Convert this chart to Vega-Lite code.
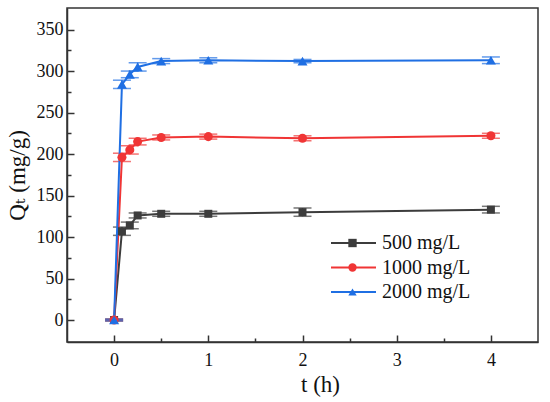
{
  "$schema": "https://vega.github.io/schema/vega-lite/v6.json",
  "width": 471,
  "height": 334,
  "autosize": {"type": "none"},
  "padding": {"left": 67, "top": 8, "right": 12, "bottom": 60},
  "background": "white",
  "data": {
    "values": [
      {"t": 0, "Q": 0, "err": 1, "series": "500 mg/L"},
      {"t": 0.0833, "Q": 107, "err": 5, "series": "500 mg/L"},
      {"t": 0.1667, "Q": 114, "err": 4, "series": "500 mg/L"},
      {"t": 0.25, "Q": 126, "err": 3, "series": "500 mg/L"},
      {"t": 0.5, "Q": 128, "err": 3, "series": "500 mg/L"},
      {"t": 1, "Q": 128, "err": 3, "series": "500 mg/L"},
      {"t": 2, "Q": 130, "err": 5, "series": "500 mg/L"},
      {"t": 4, "Q": 133, "err": 4, "series": "500 mg/L"},
      {"t": 0, "Q": 0, "err": 1, "series": "1000 mg/L"},
      {"t": 0.0833, "Q": 196, "err": 5, "series": "1000 mg/L"},
      {"t": 0.1667, "Q": 205, "err": 5, "series": "1000 mg/L"},
      {"t": 0.25, "Q": 215, "err": 4, "series": "1000 mg/L"},
      {"t": 0.5, "Q": 220, "err": 3, "series": "1000 mg/L"},
      {"t": 1, "Q": 221, "err": 3, "series": "1000 mg/L"},
      {"t": 2, "Q": 219, "err": 3, "series": "1000 mg/L"},
      {"t": 4, "Q": 222, "err": 3, "series": "1000 mg/L"},
      {"t": 0, "Q": 0, "err": 1, "series": "2000 mg/L"},
      {"t": 0.0833, "Q": 284, "err": 5, "series": "2000 mg/L"},
      {"t": 0.1667, "Q": 296, "err": 4, "series": "2000 mg/L"},
      {"t": 0.25, "Q": 305, "err": 5, "series": "2000 mg/L"},
      {"t": 0.5, "Q": 312, "err": 3, "series": "2000 mg/L"},
      {"t": 1, "Q": 313, "err": 3, "series": "2000 mg/L"},
      {"t": 2, "Q": 312, "err": 2, "series": "2000 mg/L"},
      {"t": 4, "Q": 313, "err": 4, "series": "2000 mg/L"}
    ]
  },
  "encoding": {
    "x": {
      "field": "t",
      "type": "quantitative",
      "scale": {"domain": [-0.5, 4.5], "nice": false, "zero": false},
      "axis": {
        "title": "t (h)",
        "values": [0, 0.5, 1, 1.5, 2, 2.5, 3, 3.5, 4],
        "format": "~g",
        "labelExpr": "datum.value % 1 === 0 ? datum.label : ''",
        "tickSize": {"condition": {"test": "datum.value % 1 !== 0", "value": -4}, "value": -7},
        "labelPadding": 16,
        "titleX": 253,
        "titleY": 42,
        "titleAlign": "center",
        "titleBaseline": "middle",
        "grid": false
      }
    },
    "y": {
      "field": "Q",
      "type": "quantitative",
      "scale": {"domain": [-26.5, 376], "nice": false, "zero": false},
      "axis": {
        "title": "Qₜ (mg/g)",
        "values": [0, 25, 50, 75, 100, 125, 150, 175, 200, 225, 250, 275, 300, 325, 350],
        "labelExpr": "datum.value % 50 === 0 ? datum.label : ''",
        "tickSize": {"condition": {"test": "datum.value % 50 !== 0", "value": -4}, "value": -7},
        "labelPadding": 11,
        "titleX": -50,
        "titleY": 167,
        "titleAlign": "center",
        "titleBaseline": "middle",
        "grid": false
      }
    }
  },
  "layer": [
    {
      "mark": {"type": "errorbar", "ticks": {"size": 18}, "thickness": 1.5},
      "encoding": {
        "y": {"field": "Q", "type": "quantitative"},
        "yError": {"field": "err"},
        "color": {"field": "series", "type": "nominal", "legend": null,
          "scale": {"domain": ["500 mg/L", "1000 mg/L", "2000 mg/L"], "range": ["#3c3c3c", "#f03535", "#1f6fe3"]}}
      }
    },
    {
      "mark": {"type": "line", "strokeWidth": 2},
      "encoding": {
        "color": {"field": "series", "type": "nominal",
          "scale": {"domain": ["500 mg/L", "1000 mg/L", "2000 mg/L"], "range": ["#3c3c3c", "#f03535", "#1f6fe3"]},
          "legend": {
            "orient": "none", "legendX": 263, "legendY": 223, "title": null,
            "symbolType": "stroke", "symbolSize": 2025, "symbolStrokeWidth": 2,
            "clipHeight": 24, "rowPadding": 0.5, "padding": 0, "labelOffset": 5,
            "labelFont": "Times New Roman, Liberation Serif, DejaVu Serif, serif", "labelFontSize": 20, "labelColor": "#111"
          }
        }
      }
    },
    {
      "mark": {"type": "point", "filled": true, "opacity": 1},
      "encoding": {
        "color": {"field": "series", "type": "nominal",
          "scale": {"domain": ["500 mg/L", "1000 mg/L", "2000 mg/L"], "range": ["#3c3c3c", "#f03535", "#1f6fe3"]},
          "legend": {
            "orient": "none", "legendX": 281, "legendY": 223, "title": null,
            "symbolSize": 70, "symbolStrokeWidth": 0,
            "clipHeight": 24, "rowPadding": 0.5, "padding": 0,
            "labelExpr": "''", "labelFontSize": 1
          }
        },
        "shape": {"field": "series", "type": "nominal",
          "scale": {"domain": ["500 mg/L", "1000 mg/L", "2000 mg/L"], "range": ["square", "circle", "triangle-up"]}},
        "size": {"field": "series", "type": "nominal", "legend": null,
          "scale": {"domain": ["500 mg/L", "1000 mg/L", "2000 mg/L"], "range": [64, 100, 110]}}
      }
    }
  ],
  "resolve": {"legend": {"color": "independent", "shape": "independent"}},
  "config": {
    "view": {"stroke": "#333", "strokeWidth": 1.5},
    "axis": {
      "labelFont": "Times New Roman, Liberation Serif, DejaVu Serif, serif",
      "labelFontSize": 18,
      "labelColor": "#111",
      "titleFont": "Times New Roman, Liberation Serif, DejaVu Serif, serif",
      "titleFontSize": 23,
      "titleFontWeight": "normal",
      "titleColor": "#111",
      "domainColor": "#333",
      "domainWidth": 1.5,
      "tickColor": "#333",
      "tickWidth": 1.5,
      "labelFlush": false,
      "labelOverlap": false
    }
  }
}
